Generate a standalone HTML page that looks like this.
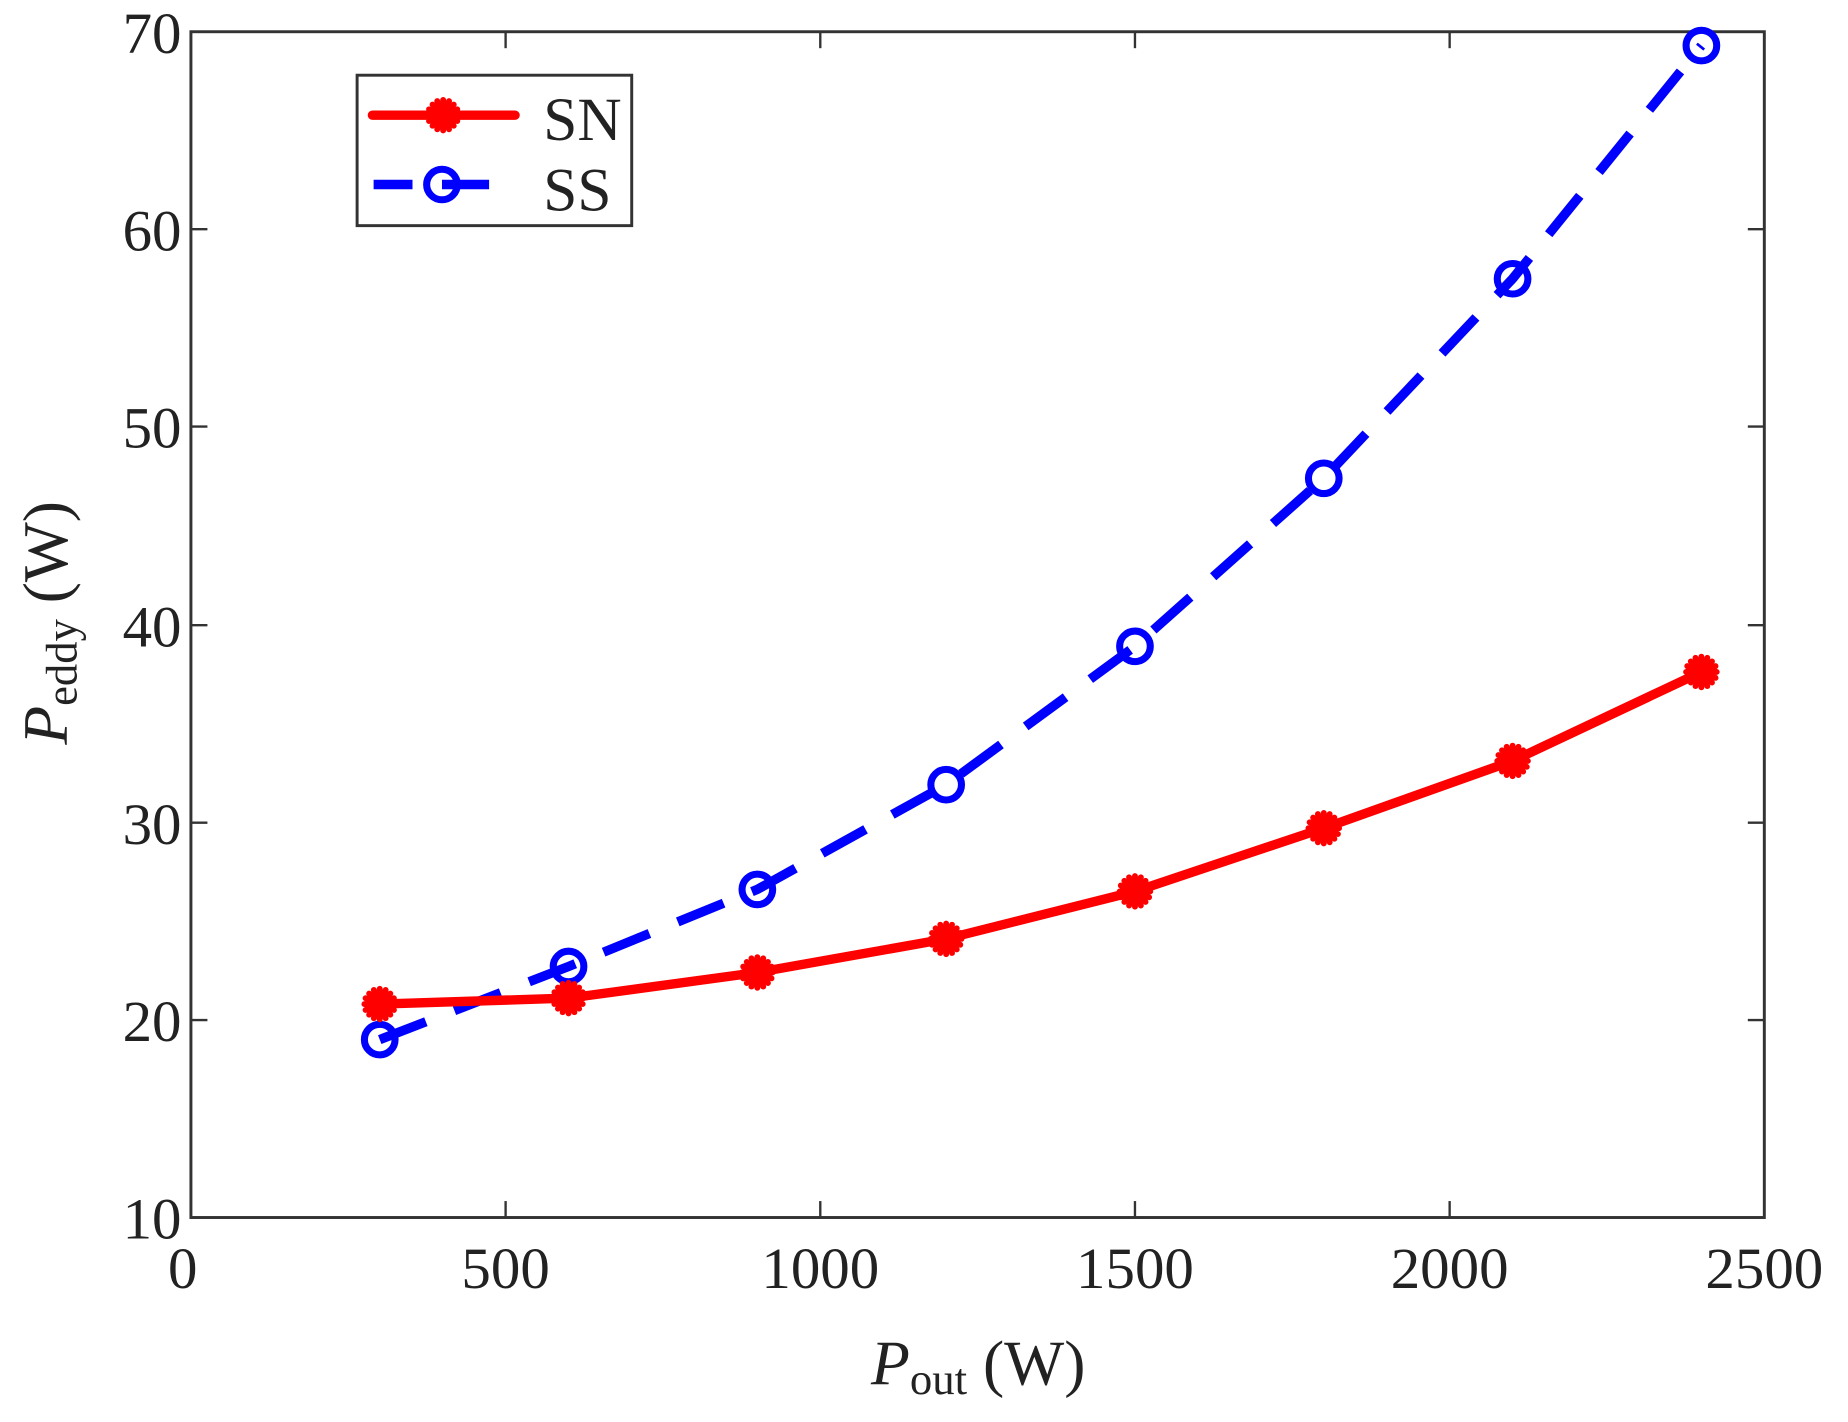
<!DOCTYPE html>
<html><head><meta charset="utf-8"><style>
html,body{margin:0;padding:0;background:#fff;}
svg{display:block;}
text{font-family:"Liberation Serif",serif;fill:#222;}
</style></head><body>
<svg width="1848" height="1422" viewBox="0 0 1568 1210" preserveAspectRatio="none" xmlns="http://www.w3.org/2000/svg">
<defs>
<g id="ast" stroke="#f00" stroke-width="5" stroke-linecap="round">
<line x1="-13" y1="0" x2="13" y2="0"/><line x1="0" y1="-13" x2="0" y2="13"/>
<line x1="-9" y1="-9" x2="9" y2="9"/><line x1="-9" y1="9" x2="9" y2="-9"/>
<line x1="-5" y1="-12" x2="5" y2="12"/><line x1="5" y1="-12" x2="-5" y2="12"/>
<line x1="-12" y1="-5" x2="12" y2="5"/><line x1="-12" y1="5" x2="12" y2="-5"/>
</g>
<g id="circ"><circle r="13" fill="none" stroke="#00f" stroke-width="6"/></g>
</defs>
<rect x="162" y="27" width="1335" height="1009" fill="#fff" stroke="#333" stroke-width="2.5"/>
<g stroke="#333" stroke-width="2">
<line x1="429" y1="1036" x2="429" y2="1022"/><line x1="696" y1="1036" x2="696" y2="1022"/><line x1="963" y1="1036" x2="963" y2="1022"/><line x1="1230" y1="1036" x2="1230" y2="1022"/>
<line x1="429" y1="27" x2="429" y2="41"/><line x1="696" y1="27" x2="696" y2="41"/><line x1="963" y1="27" x2="963" y2="41"/><line x1="1230" y1="27" x2="1230" y2="41"/>
<line x1="162" y1="868" x2="176" y2="868"/><line x1="162" y1="700" x2="176" y2="700"/><line x1="162" y1="532" x2="176" y2="532"/><line x1="162" y1="363" x2="176" y2="363"/><line x1="162" y1="195" x2="176" y2="195"/>
<line x1="1497" y1="868" x2="1483" y2="868"/><line x1="1497" y1="700" x2="1483" y2="700"/><line x1="1497" y1="532" x2="1483" y2="532"/><line x1="1497" y1="363" x2="1483" y2="363"/><line x1="1497" y1="195" x2="1483" y2="195"/>
</g>
<g font-size="50" text-anchor="end">
<text x="154" y="1054">10</text><text x="154" y="886">20</text><text x="154" y="718">30</text><text x="154" y="550">40</text><text x="154" y="381">50</text><text x="154" y="213">60</text><text x="154" y="45">70</text>
</g>
<g font-size="50" text-anchor="middle">
<text x="155" y="1096">0</text><text x="429" y="1096">500</text><text x="696" y="1096">1000</text><text x="963" y="1096">1500</text><text x="1230" y="1096">2000</text><text x="1497" y="1096">2500</text>
</g>
<text x="830" y="1178" font-size="54" text-anchor="middle"><tspan font-style="italic">P</tspan><tspan font-size="38" dy="8">out</tspan><tspan dy="-8"> (W)</tspan></text>
<text transform="translate(57,530) rotate(-90)" font-size="54" text-anchor="middle"><tspan font-style="italic">P</tspan><tspan font-size="38" dy="8">eddy</tspan><tspan dy="-8"> (W)</tspan></text>
<polyline fill="none" stroke="#00f" stroke-width="8" stroke-dasharray="42,26" points="322.2,884.6 482.4,822.4 642.6,756.8 802.8,667.7 963,550 1123.2,407 1283.4,237.2 1443.6,38.8"/>
<polyline fill="none" stroke="#f00" stroke-width="8" stroke-linejoin="round" points="322.2,854.4 482.4,849.3 642.6,827.5 802.8,798.9 963,758.5 1123.2,704.7 1283.4,647.5 1443.6,571.8"/>
<use href="#circ" x="322.2" y="884.6"/><use href="#circ" x="482.4" y="822.4"/><use href="#circ" x="642.6" y="756.8"/><use href="#circ" x="802.8" y="667.7"/><use href="#circ" x="963" y="550"/><use href="#circ" x="1123.2" y="407"/><use href="#circ" x="1283.4" y="237.2"/><use href="#circ" x="1443.6" y="38.8"/>
<use href="#ast" x="322.2" y="854.4"/><use href="#ast" x="482.4" y="849.3"/><use href="#ast" x="642.6" y="827.5"/><use href="#ast" x="802.8" y="798.9"/><use href="#ast" x="963" y="758.5"/><use href="#ast" x="1123.2" y="704.7"/><use href="#ast" x="1283.4" y="647.5"/><use href="#ast" x="1443.6" y="571.8"/>
<rect x="303" y="64" width="233" height="128" fill="#fff" stroke="#333" stroke-width="2.5"/>
<line x1="316" y1="98" x2="437" y2="98" stroke="#f00" stroke-width="8" stroke-linecap="round"/>
<use href="#ast" x="376" y="98"/>
<line x1="317" y1="157" x2="350" y2="157" stroke="#00f" stroke-width="8"/>
<line x1="375" y1="157" x2="415" y2="157" stroke="#00f" stroke-width="8"/>
<use href="#circ" x="375" y="157"/>
<text x="461" y="119" font-size="52">SN</text>
<text x="461" y="179" font-size="52">SS</text>
</svg>
</body></html>
